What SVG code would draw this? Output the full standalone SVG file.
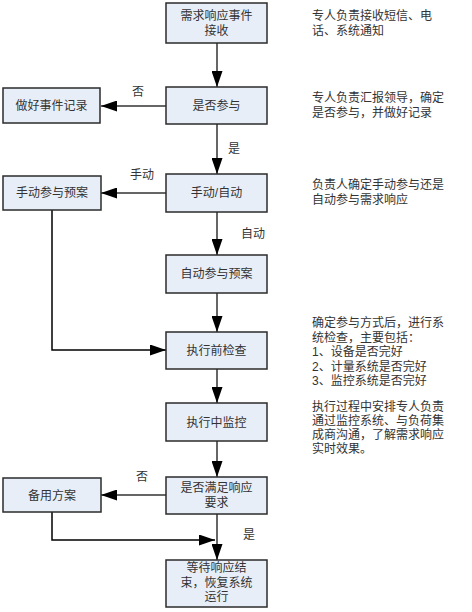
<svg xmlns="http://www.w3.org/2000/svg" width="472" height="612" viewBox="0 0 472 612">
<style>
.box{fill:#E8EEF8;stroke:#2b2b2b;stroke-width:1.5}
.t{font-family:"Liberation Sans","Noto Sans CJK SC",sans-serif;font-size:12px;fill:#333}
.c{text-anchor:middle}
.g{fill:none;stroke:#666;stroke-width:2}
.k{fill:none;stroke:#000;stroke-width:1.5}
</style>
<defs>
<marker id="ah" markerUnits="userSpaceOnUse" markerWidth="16" markerHeight="11" refX="16" refY="5.5" orient="auto">
<path d="M0,0 L16,5.5 L0,11 z" fill="#000"/>
</marker>
</defs>
<rect width="472" height="612" fill="#fff"/>
<g id="connectors">
<line class="g" x1="217" y1="43" x2="217" y2="87" marker-end="url(#ah)"/>
<line class="g" x1="166" y1="106" x2="101" y2="106" marker-end="url(#ah)"/>
<line class="g" x1="217" y1="124" x2="217" y2="174" marker-end="url(#ah)"/>
<line class="g" x1="166" y1="193" x2="101" y2="193" marker-end="url(#ah)"/>
<line class="g" x1="217" y1="212" x2="217" y2="255" marker-end="url(#ah)"/>
<line class="g" x1="217" y1="293" x2="217" y2="332" marker-end="url(#ah)"/>
<polyline class="k" points="52,210 52,350 166,350" marker-end="url(#ah)"/>
<line class="g" x1="217" y1="369" x2="217" y2="403" marker-end="url(#ah)"/>
<line class="g" x1="217" y1="441" x2="217" y2="477" marker-end="url(#ah)"/>
<line class="g" x1="166" y1="495" x2="101" y2="495" marker-end="url(#ah)"/>
<line class="g" x1="217" y1="514" x2="217" y2="560" marker-end="url(#ah)"/>
<polyline class="k" points="52,512 52,540 215,540" marker-end="url(#ah)"/>
<text class="t" x="132" y="96">否</text>
<text class="t" x="228" y="153">是</text>
<text class="t" x="130" y="179">手动</text>
<text class="t" x="241" y="238">自动</text>
<text class="t" x="136" y="481">否</text>
<text class="t" x="243" y="539">是</text>
</g>
<g id="n1"><rect class="box" x="166" y="3" width="101" height="40"/><text class="t c" x="216.5" y="19.5">需求响应事件</text><text class="t c" x="216.5" y="34.5">接收</text></g>
<g id="n2"><rect class="box" x="166" y="87" width="101" height="37"/><text class="t c" x="216.5" y="110">是否参与</text></g>
<g id="n3"><rect class="box" x="3" y="88" width="97" height="35"/><text class="t c" x="51.5" y="110">做好事件记录</text></g>
<g id="n4"><rect class="box" x="166" y="174" width="101" height="38"/><text class="t c" x="216.5" y="197">手动/自动</text></g>
<g id="n5"><rect class="box" x="3" y="176" width="98" height="34"/><text class="t c" x="52" y="197">手动参与预案</text></g>
<g id="n6"><rect class="box" x="166" y="255" width="101" height="38"/><text class="t c" x="216.5" y="278">自动参与预案</text></g>
<g id="n7"><rect class="box" x="166" y="332" width="101" height="37"/><text class="t c" x="216.5" y="355">执行前检查</text></g>
<g id="n8"><rect class="box" x="166" y="403" width="101" height="38"/><text class="t c" x="216.5" y="426.5">执行中监控</text></g>
<g id="n9"><rect class="box" x="166" y="477" width="101" height="37"/><text class="t c" x="216.5" y="491.5">是否满足响应</text><text class="t c" x="216.5" y="506.5">要求</text></g>
<g id="n10"><rect class="box" x="3" y="478" width="98" height="34"/><text class="t c" x="52" y="499.5">备用方案</text></g>
<g id="n11"><rect class="box" x="166" y="560" width="101" height="47"/><text class="t c" x="216.5" y="572">等待响应结</text><text class="t c" x="216.5" y="586.5">束，恢复系统</text><text class="t c" x="216.5" y="601">运行</text></g>
<g id="notes">
<text class="t" x="312" y="19.5">专人负责接收短信、电</text>
<text class="t" x="312" y="35">话、系统通知</text>
<text class="t" x="312" y="102">专人负责汇报领导，确定</text>
<text class="t" x="312" y="117">是否参与，并做好记录</text>
<text class="t" x="312" y="189">负责人确定手动参与还是</text>
<text class="t" x="312" y="204">自动参与需求响应</text>
<text class="t" x="312" y="327">确定参与方式后，进行系</text>
<text class="t" x="312" y="341.5">统检查，主要包括：</text>
<text class="t" x="312" y="356">1、设备是否完好</text>
<text class="t" x="312" y="370.5">2、计量系统是否完好</text>
<text class="t" x="312" y="385">3、监控系统是否完好</text>
<text class="t" x="312" y="411">执行过程中安排专人负责</text>
<text class="t" x="312" y="425">通过监控系统、与负荷集</text>
<text class="t" x="312" y="439">成商沟通，了解需求响应</text>
<text class="t" x="312" y="453">实时效果。</text>
</g>
</svg>
